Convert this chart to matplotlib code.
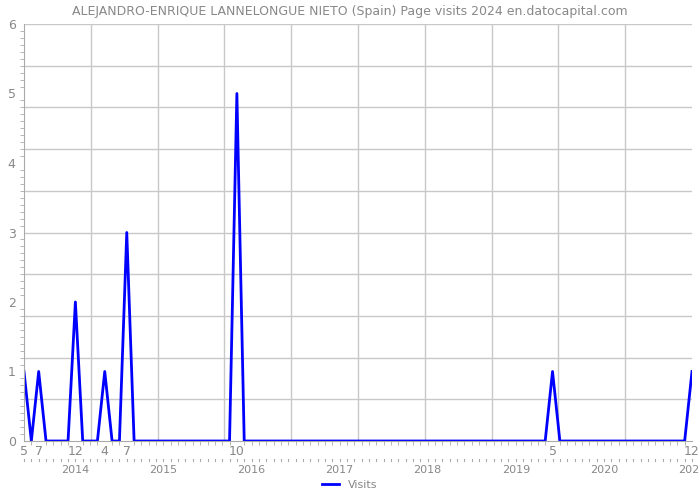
import numpy as np
import matplotlib
matplotlib.use('Agg')
import matplotlib.pyplot as plt
from matplotlib.ticker import MultipleLocator, FixedLocator

# monthly page visits, 2013-05 .. 2020-12
start_year, start_month = 2013, 5
v2013 = [1, 0, 1, 0, 0, 0, 0, 2]                  # May .. Dec
v2014 = [0, 0, 0, 1, 0, 0, 3, 0, 0, 0, 0, 0]
v2015 = [0, 0, 0, 0, 0, 0, 0, 0, 0, 5, 0, 0]
v2016 = [0, 0, 0, 0, 0, 0, 0, 0, 0, 0, 0, 0]
v2017 = [0, 0, 0, 0, 0, 0, 0, 0, 0, 0, 0, 0]
v2018 = [0, 0, 0, 0, 0, 0, 0, 0, 0, 0, 0, 0]
v2019 = [0, 0, 0, 0, 1, 0, 0, 0, 0, 0, 0, 0]
v2020 = [0, 0, 0, 0, 0, 0, 0, 0, 0, 0, 0, 1]
visits = v2013 + v2014 + v2015 + v2016 + v2017 + v2018 + v2019 + v2020

month_ticks = [0, 2, 7, 11, 14, 29, 72, 91]
month_labels = ["5", "7", "12", "4", "7", "10", "5", "12"]
years = [2014, 2015, 2016, 2017, 2018, 2019, 2020, 2021]

x = np.arange(len(visits))
grey = "#888888"

fig = plt.figure(figsize=(7, 5), dpi=100)
ax = fig.add_axes([24 / 700, 59 / 500, 668 / 700, 417 / 500])
ax.plot(x, visits, color="#0000ff", lw=2, label="Visits")

ax.set_xlim(0, len(visits) - 1)
ax.set_ylim(0, 6)

ax.yaxis.set_major_locator(FixedLocator(range(7)))
ax.yaxis.set_minor_locator(MultipleLocator(0.1))
ax.xaxis.set_major_locator(FixedLocator(month_ticks))
ax.set_xticklabels(month_labels)
ax.xaxis.set_minor_locator(MultipleLocator(1))

for gy in np.arange(0.6, 6.01, 0.6):
    ax.axhline(gy, color="#c8c8c8", lw=1, zorder=0)
for gx in np.linspace(0, len(visits) - 1, 11)[1:-1]:
    ax.axvline(gx, color="#c8c8c8", lw=1, zorder=0)

for s in ["top", "right"]:
    ax.spines[s].set_visible(False)
for s in ["left", "bottom"]:
    ax.spines[s].set_color("#aaaaaa")
ax.tick_params(axis="both", which="both", colors="#aaaaaa", labelcolor=grey, labelsize=9)
ax.tick_params(axis="y", which="major", length=0, pad=6)
ax.tick_params(axis="y", which="minor", length=3)
ax.tick_params(axis="x", which="major", length=0, pad=3)
ax.tick_params(axis="x", which="minor", length=3)

# second row of month ticks and the year labels
for i in x:
    ax.plot([i, i], [-0.26, -0.29], color="#aaaaaa", lw=0.8, clip_on=False)
for yr in years:
    xi = (yr - 1 - start_year) * 12 + (12 - start_month)
    ax.text(xi, -0.35, str(yr), ha="center", va="top", fontsize=8, color=grey,
            clip_on=False)

fig.suptitle("ALEJANDRO-ENRIQUE LANNELONGUE NIETO (Spain) Page visits 2024 en.datocapital.com",
             x=0.5, y=0.99, fontsize=9, color=grey)
fig.legend(loc="lower center", bbox_to_anchor=(0.5, 0.0), frameon=False, fontsize=8,
           labelcolor=grey, handlelength=1.5)

fig.savefig("out.png", dpi=100)
